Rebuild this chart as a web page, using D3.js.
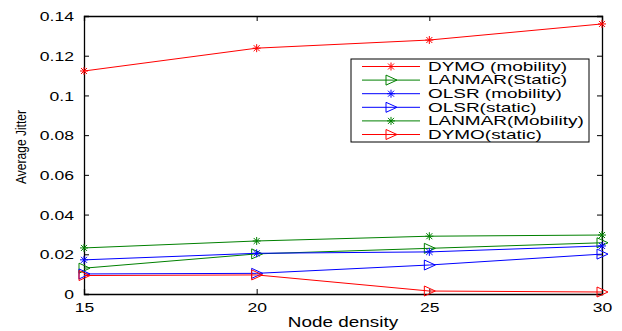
<!DOCTYPE html>
<html>
<head>
<meta charset="utf-8">
<script src="https://cdn.jsdelivr.net/npm/d3@7"></script>
<style>
  body { margin: 0; background: #fff; }
  text { font-family: "Liberation Sans", Arial, Helvetica, sans-serif; fill: #000; }
</style>
</head>
<body>
<div id="chart-area"></div>
<script>
// node density on x axis
var densities = [15, 20, 25, 30];

var yTicks = [0, 0.02, 0.04, 0.06, 0.08, 0.1, 0.12, 0.14];
var yTickLabels = ["0", "0.02", "0.04", "0.06", "0.08", "0.1", "0.12", "0.14"];

// series values
var dymoMobility   = [0.1123, 0.1238, 0.1279, 0.1360];
var lanmarStatic   = [0.0130, 0.0202, 0.0230, 0.0258];
var olsrMobility   = [0.0172, 0.0205, 0.0212, 0.0242];
var olsrStatic     = [0.0101, 0.0104, 0.0146, 0.0201];
var lanmarMobility = [0.0232, 0.0267, 0.0291, 0.0297];
var dymoStatic     = [0.0093, 0.0096, 0.0015, 0.0010];

var seriesNames  = ["DYMO (mobility)", "LANMAR(Static)", "OLSR (mobility)",
                    "OLSR(static)", "LANMAR(Mobility)", "DYMO(static)"];
var seriesValues = [dymoMobility, lanmarStatic, olsrMobility,
                    olsrStatic, lanmarMobility, dymoStatic];
var seriesColors = ["#ff0000", "#008000", "#0000ff", "#0000ff", "#008000", "#ff0000"];
var seriesMarkers = ["star", "tri", "star", "tri", "star", "tri"];

var margin = { left: 84, right: 20, top: 16, bottom: 37 };
var width = 622 - margin.left - margin.right;
var height = 331 - margin.top - margin.bottom;

var svg = d3.select("#chart-area").append("svg")
  .attr("width", 622)
  .attr("height", 331);

var g = svg.append("g")
  .attr("transform", "translate(" + margin.left + "," + margin.top + ")");

var x = d3.scaleLinear().domain([15, 30]).range([0, width]);
var y = d3.scaleLinear().domain([0, 0.14]).range([height, 0]);

// stretched text like the exported figure
function stretch(sel, k) {
  sel.each(function() {
    var t = d3.select(this);
    var tx = +t.attr("x") || 0, ty = +t.attr("y") || 0;
    t.attr("x", tx / k).attr("y", ty).attr("transform", "scale(" + k + ",1)");
  });
}

// axes, ticks inward
var xAxis = g.append("g")
  .attr("transform", "translate(0," + height + ")")
  .call(d3.axisBottom(x).tickValues(densities).tickSize(-5).tickPadding(9)
    .tickFormat(function(d) { return d; }));
var xTop = g.append("g")
  .call(d3.axisTop(x).tickValues(densities).tickSize(-5).tickFormat(""));

var yAxis = g.append("g")
  .call(d3.axisLeft(y).tickValues(yTicks).tickSize(-5).tickPadding(10)
    .tickFormat(function(d, i) { return yTickLabels[i]; }));
var yRight = g.append("g")
  .attr("transform", "translate(" + width + ",0)")
  .call(d3.axisRight(y).tickValues(yTicks).tickSize(-5).tickFormat(""));

[xAxis, xTop, yAxis, yRight].forEach(function(a) {
  a.select(".domain").attr("stroke", "#000").attr("stroke-width", 1.3);
  a.selectAll(".tick line").attr("stroke", "#000").attr("stroke-width", 1);
  a.selectAll("text").attr("font-size", "13px").attr("font-family", null);
});
stretch(xAxis.selectAll(".tick text"), 1.35);
stretch(yAxis.selectAll(".tick text"), 1.35);
yAxis.selectAll(".tick text").attr("dy", "0.36em");

// axis labels
g.append("text")
  .attr("x", width / 2 / 1.35)
  .attr("y", height + 33)
  .attr("transform", "scale(1.35,1)")
  .attr("font-size", "14px")
  .attr("text-anchor", "middle")
  .text("Node density");

svg.append("text")
  .attr("transform", "translate(26,147) rotate(-90) scale(0.86,1)")
  .attr("font-size", "14px")
  .attr("text-anchor", "middle")
  .text("Average Jitter");

// markers
function drawMarker(sel, type, color) {
  if (type === "star") {
    var r = 4;
    sel.append("path")
      .attr("d", "M" + -r + ",0H" + r + "M0," + -r + "V" + r +
        "M" + -r * 0.75 + "," + -r * 0.75 + "L" + r * 0.75 + "," + r * 0.75 +
        "M" + -r * 0.75 + "," + r * 0.75 + "L" + r * 0.75 + "," + -r * 0.75)
      .attr("stroke", color).attr("stroke-width", 1).attr("fill", "none");
  } else {
    sel.append("path")
      .attr("d", "M-5,-5L6,0L-5,5Z")
      .attr("stroke", color).attr("stroke-width", 1).attr("fill", "none");
  }
}

var line = d3.line()
  .x(function(d, i) { return x(densities[i]); })
  .y(function(d) { return y(d); });

seriesValues.forEach(function(vals, s) {
  g.append("path")
    .datum(vals)
    .attr("d", line)
    .attr("fill", "none")
    .attr("stroke", seriesColors[s])
    .attr("stroke-width", 1);

  g.selectAll(".m" + s)
    .data(vals)
    .enter()
    .append("g")
      .attr("class", "m" + s)
      .attr("transform", function(d, i) {
        return "translate(" + x(densities[i]) + "," + y(d) + ")";
      })
      .each(function() { drawMarker(d3.select(this), seriesMarkers[s], seriesColors[s]); });
});

// legend
var legend = svg.append("g").attr("transform", "translate(351,59)");
legend.append("rect")
  .attr("width", 238).attr("height", 83)
  .attr("fill", "#fff").attr("stroke", "#000").attr("stroke-width", 1);

var lk = 1.58;
seriesNames.forEach(function(name, s) {
  var ly = 7.5 + s * 13.6;
  var row = legend.append("g").attr("transform", "translate(0," + ly + ")");
  row.append("line")
    .attr("x1", 11).attr("x2", 69).attr("y1", 0).attr("y2", 0)
    .attr("stroke", seriesColors[s]).attr("stroke-width", 1);
  var mk = row.append("g").attr("transform", "translate(40,0)");
  drawMarker(mk, seriesMarkers[s], seriesColors[s]);
  row.append("text")
    .attr("x", 77 / lk)
    .attr("y", 0)
    .attr("dy", "0.36em")
    .attr("transform", "scale(" + lk + ",1)")
    .attr("font-size", "12px")
    .text(name);
});
</script>
</body>
</html>
